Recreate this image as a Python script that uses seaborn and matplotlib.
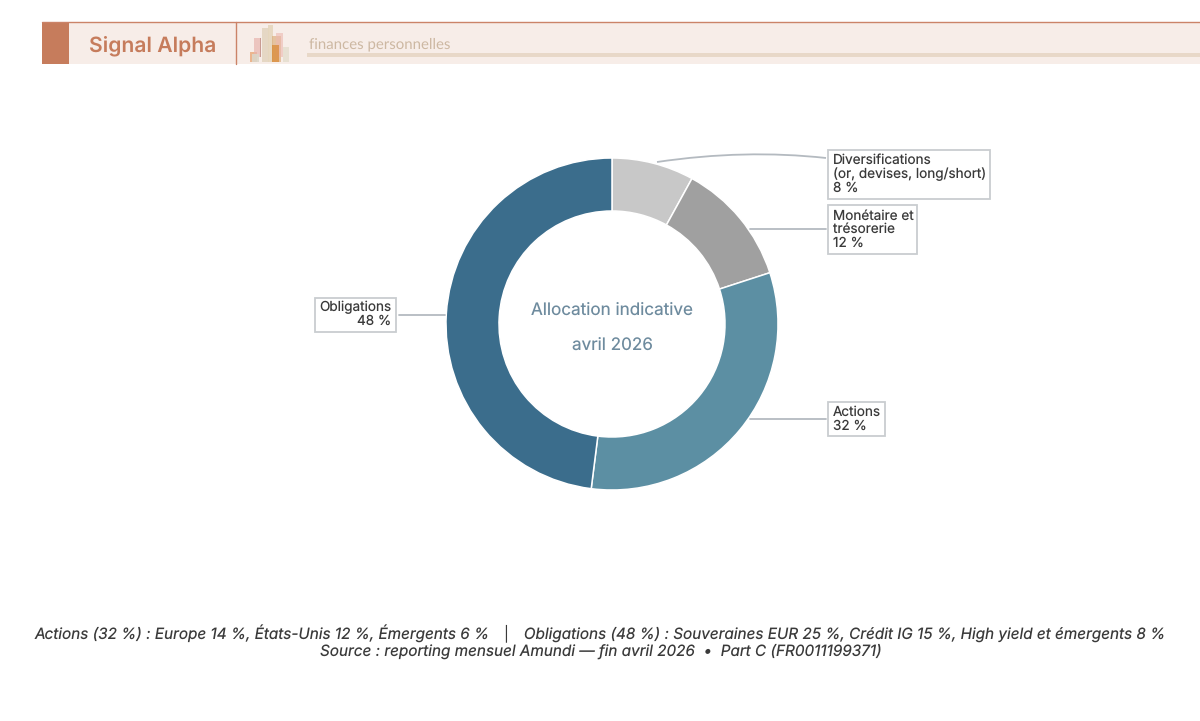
import matplotlib
matplotlib.use("Agg")
import matplotlib.pyplot as plt
from matplotlib.patches import Rectangle, PathPatch
from matplotlib.path import Path
import seaborn as sns

# Allocation, clockwise from twelve o'clock
categories = ["Diversifications\n(or, devises, long/short)", "Monétaire et\ntrésorerie", "Actions", "Obligations"]
weights = [8, 12, 32, 48]
slice_colors = ["#c8c8c8", "#a0a0a0", "#5c8fa3", "#3b6d8c"]

center_lines = ["Allocation indicative", "avril 2026"]
footer_lines = [
    "Actions (32 %) : Europe 14 %, États-Unis 12 %, Émergents 6 %   │   Obligations (48 %) : Souveraines EUR 25 %, Crédit IG 15 %, High yield et émergents 8 %",
    "Source : reporting mensuel Amundi — fin avril 2026  •  Part C (FR0011199371)",
]

W, H = 1200, 721
sns.set_theme(style="white")
plt.rcParams["font.family"] = ["Inter", "DejaVu Sans"]
plt.rcParams["text.hinting"] = "no_hinting"
plt.rcParams["text.hinting_factor"] = 1

fig = plt.figure(figsize=(W / 100, H / 100), dpi=100, facecolor="white")

# Overlay in pixel units for banner, callouts and footer
page = fig.add_axes([0, 0, 1, 1], zorder=3)
page.set_xlim(0, W)
page.set_ylim(H, 0)
page.axis("off")
page.patch.set_alpha(0)

# Donut
cx, cy, r = 612, 324, 166
pie_ax = fig.add_axes([(cx - r) / W, 1 - (cy + r) / H, 2 * r / W, 2 * r / H], zorder=2)
pie_ax.pie(
    weights,
    colors=sns.color_palette(slice_colors),
    startangle=90,
    counterclock=False,
    radius=1,
    wedgeprops=dict(width=53 / 166, edgecolor="white", linewidth=1.1),
)
pie_ax.set_xlim(-1, 1)
pie_ax.set_ylim(-1, 1)
for w in pie_ax.patches:
    w.set_clip_on(False)

page.text(cx, 310, center_lines[0], ha="center", va="center", fontsize=12.3, color="#6e8b9e")
page.text(cx, 345.5, center_lines[1], ha="center", va="center", fontsize=12.3, color="#6e8b9e")

# Banner
accent = "#c67c5c"
page.add_patch(Rectangle((42, 22), W - 42, 42, fc="#f7ede8", ec="none"))
page.plot([42, W], [22, 22], color="#cb8368", lw=1)
page.add_patch(Rectangle((42, 22), 26.5, 42, fc=accent, ec="none"))
page.plot([236, 236], [22, 64], color="#cb8368", lw=1)
page.text(89, 45.5, "Signal Alpha", fontsize=15.2, fontweight="semibold",
          color=accent, va="center", ha="left")
page.text(309, 44, "finances personnelles", fontsize=10.9, family=["Lato", "DejaVu Sans"],
          color="#cdb8a2", va="center", ha="left")
page.add_patch(Rectangle((307, 53), W - 307, 4, fc="#e8d8c8", ec="none"))

# Small skyline ornament in the banner
skyline = [
    (250, 52, 7, 10, "#e8a878", 0.8),
    (254, 38, 7, 19, "#e8b4ae", 0.7),
    (260, 38, 1, 19, "#b98a80", 0.7),
    (252, 54, 7, 8, "#dcd6c8", 0.9),
    (262, 28, 7, 34, "#e3d5c0", 0.9),
    (268, 25, 5, 37, "#e6d6bd", 0.9),
    (272, 36, 9, 26, "#d9a66f", 0.6),
    (276, 33, 7, 24, "#ecb8b0", 0.6),
    (272, 45, 7, 17, "#d9872f", 0.7),
    (283, 47, 6, 15, "#e6dfd0", 0.9),
]
for x, y, w, h, c, a in skyline:
    page.add_patch(Rectangle((x, y), w, h, fc=c, ec="none", alpha=a))

# Callouts
leader = "#b4bac0"
box_edge = "#c9cdd0"
text_col = "#3a3a3a"
boxes = [(828, 150, 162, 49), (828, 205, 89, 49), (828, 402, 57, 34), (315, 298, 81, 34)]
for (x, y, w, h) in boxes:
    page.add_patch(Rectangle((x, y), w, h, fc="white", ec=box_edge, lw=1.3))

fs = 9.75
for label, value, (x, y, w, h) in zip(categories[:3], weights[:3], boxes[:3]):
    page.text(x + 5, y + h / 2, f"{label}\n{value} %", fontsize=fs, color=text_col, ha="left",
              va="center", linespacing=1.08)
x, y, w, h = boxes[3]
page.text(x + 4.5, y + 9.5, categories[3], fontsize=fs, color=text_col, ha="left", va="center")
page.text(x + w - 4.5, y + 23.5, f"{weights[3]} %", fontsize=fs, color=text_col, ha="right", va="center")

curve = Path([(657, 162), (745, 149), (826, 158)], [Path.MOVETO, Path.CURVE3, Path.CURVE3])
page.add_patch(PathPatch(curve, fc="none", ec=leader, lw=1.3))
for x0, x1, yy in [(750, 826, 229), (750, 826, 419), (399, 445, 315)]:
    page.plot([x0, x1], [yy, yy], color=leader, lw=1.3)

# Footer
page.text(600.5, 634, footer_lines[0], fontsize=11.02, style="italic", color="#3a3a3a", ha="center", va="center")
page.text(600.5, 651, footer_lines[1], fontsize=11.02, style="italic", color="#3a3a3a", ha="center", va="center")

fig.savefig("out.png", dpi=100, facecolor="white")
